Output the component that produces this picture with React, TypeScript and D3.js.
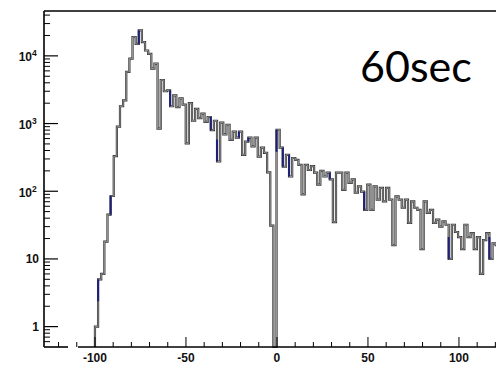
import React from "react";
import * as d3 from "d3";

// Histogram counts per bin (log-scale y axis)
const binStart = -100;
const binWidth = 1.72;
const counts = [
  1, 5, 6, 18, 45, 85, 330, 900, 1800, 2200,
  5800, 9100, 19000, 15000, 23800, 16000, 12000, 10700, 6500, 7700,
  840, 4400, 3000, 3100, 1800, 2600, 1750, 2350, 1900, 510,
  2000, 1100, 1650, 1200, 1400, 1060, 1250, 800, 1100, 275,
  1030, 690, 960, 575, 760, 620, 760, 345, 540, 620,
  460, 620, 325, 440, 370, 190, 31, 0, 810, 440,
  230, 345, 165, 310, 290, 245, 90, 245, 206, 235,
  188, 125, 200, 165, 188, 150, 35, 188, 188, 105,
  188, 133, 150, 95, 118, 99, 53, 125, 53, 118,
  75, 112, 71, 112, 75, 16, 84, 75, 57, 75,
  34, 71, 57, 53, 14, 71, 48, 53, 34, 38,
  30, 36, 32, 10, 32, 25, 21, 14, 32, 21,
  24, 14, 21, 6, 19, 24, 10, 17, 16, 15, 18,
];
// bins whose left edge shows in dark blue
const blueBins = [1, 5, 14, 24, 37, 39, 46, 49, 58, 60, 62, 75, 86, 113, 126];

const xMajorTicks = [-100, -50, 0, 50, 100];
const xMinorTicks = [-120, -110, -90, -80, -70, -60, -40, -30, -20, -10, 10, 20, 30, 40, 60, 70, 80, 90, 110, 120];
const yMajorTicks = [1, 10, 100, 1000, 10000];
const yLabelBase = ["1", "10", "10", "10", "10"];
const yLabelExp = ["", "", "2", "3", "4"];
const yMinorTicks = [
  0.6, 0.7, 0.8, 0.9,
  2, 3, 4, 5, 6, 7, 8, 9,
  20, 30, 40, 50, 60, 70, 80, 90,
  200, 300, 400, 500, 600, 700, 800, 900,
  2000, 3000, 4000, 5000, 6000, 7000, 8000, 9000,
  20000, 30000, 40000,
];
const annotation = "60sec";

const W = 496;
const H = 370;
const left = 44;
const top = 11;
const bottom = 347;

export default function App() {
  const x = d3.scaleLinear().domain([-128, 130]).range([left, left + 1.82 * 258]);
  const y = d3.scaleLog().domain([0.5, 46000]).range([bottom, top]);
  const yv = (v: number) => y(Math.max(v, 0.5));

  const edges = counts.map((_, i) => binStart + i * binWidth);
  const lastEdge = binStart + counts.length * binWidth;
  const pts: [number, number][] = [[x(edges[0]), bottom]];
  counts.forEach((c, i) => {
    pts.push([x(edges[i]), yv(c)]);
    pts.push([x(edges[i] + binWidth), yv(c)]);
  });
  pts.push([x(lastEdge), bottom]);
  const path = d3.line()(pts) || "";

  const bluePaths = blueBins.map((i) => {
    const prev = i > 0 ? counts[i - 1] : 0;
    const y1 = yv(counts[i]);
    const y0 = yv(prev);
    const y0c = y0 > y1 ? Math.min(y0, y1 + 22) : Math.max(y0, y1 - 22);
    return d3.line()([
      [x(edges[i]), y0c],
      [x(edges[i]), y1],
    ]) || "";
  });

  const font = "'Liberation Sans', Arial, sans-serif";

  return (
    <svg width={W} height={H} style={{ position: "absolute", left: 0, top: 0 }}>
      <rect x={0} y={0} width={W} height={H} fill="#fff" />
      <defs>
        <clipPath id="plot">
          <rect x={left} y={top} width={W - left + 20} height={bottom - top + 1} />
        </clipPath>
      </defs>
      <g clipPath="url(#plot)">
        <path d={path} fill="none" stroke="#333" strokeWidth={2.2} />
        <path d={path} fill="none" stroke="#a0a0a0" strokeWidth={0.9} />
        {bluePaths.map((d, i) => (
          <path key={i} d={d} fill="none" stroke="#1d1f78" strokeWidth={2} />
        ))}
      </g>
      {/* frame */}
      <line x1={left} x2={W} y1={top} y2={top} stroke="#000" strokeWidth={1.6} />
      <line x1={left} x2={left} y1={top} y2={bottom} stroke="#000" strokeWidth={1.6} />
      <line x1={left} x2={68} y1={bottom} y2={bottom} stroke="#000" strokeWidth={1.6} />
      <line x1={78} x2={W} y1={bottom} y2={bottom} stroke="#000" strokeWidth={1.6} />
      {/* y ticks */}
      {yMajorTicks.map((t, i) => (
        <g key={"ym" + i}>
          <line x1={left} x2={left + 14} y1={y(t)} y2={y(t)} stroke="#000" strokeWidth={1.2} />
          <text x={yLabelExp[i] ? 32 : 39} y={y(t) + 4.5 + (yLabelExp[i] ? 1 : 0)} textAnchor="end"
            fontFamily={font} fontWeight="bold" fontSize={12} fill="#111">{yLabelBase[i]}</text>
          {yLabelExp[i] && (
            <text x={32} y={y(t) + 0.5} fontFamily={font} fontWeight="bold" fontSize={8.5} fill="#111">{yLabelExp[i]}</text>
          )}
        </g>
      ))}
      {yMinorTicks.map((t, i) => (
        <line key={"yn" + i} x1={left} x2={left + 6} y1={y(t)} y2={y(t)} stroke="#000" strokeWidth={1} />
      ))}
      {/* x ticks */}
      {xMajorTicks.map((t, i) => (
        <g key={"xm" + i}>
          <line x1={x(t)} x2={x(t)} y1={bottom} y2={bottom - 10} stroke="#000" strokeWidth={1} />
          <text x={x(t)} y={361.5} textAnchor="middle" fontFamily={font} fontWeight="bold" fontSize={12} fill="#111">{t}</text>
        </g>
      ))}
      {xMinorTicks.map((t, i) => (
        <line key={"xn" + i} x1={x(t)} x2={x(t)} y1={bottom} y2={bottom - 5} stroke="#000" strokeWidth={1} />
      ))}
      <text x={360} y={82} fontFamily="Lato, 'Open Sans', sans-serif" fontSize={43} fill="#000">{annotation}</text>
    </svg>
  );
}
